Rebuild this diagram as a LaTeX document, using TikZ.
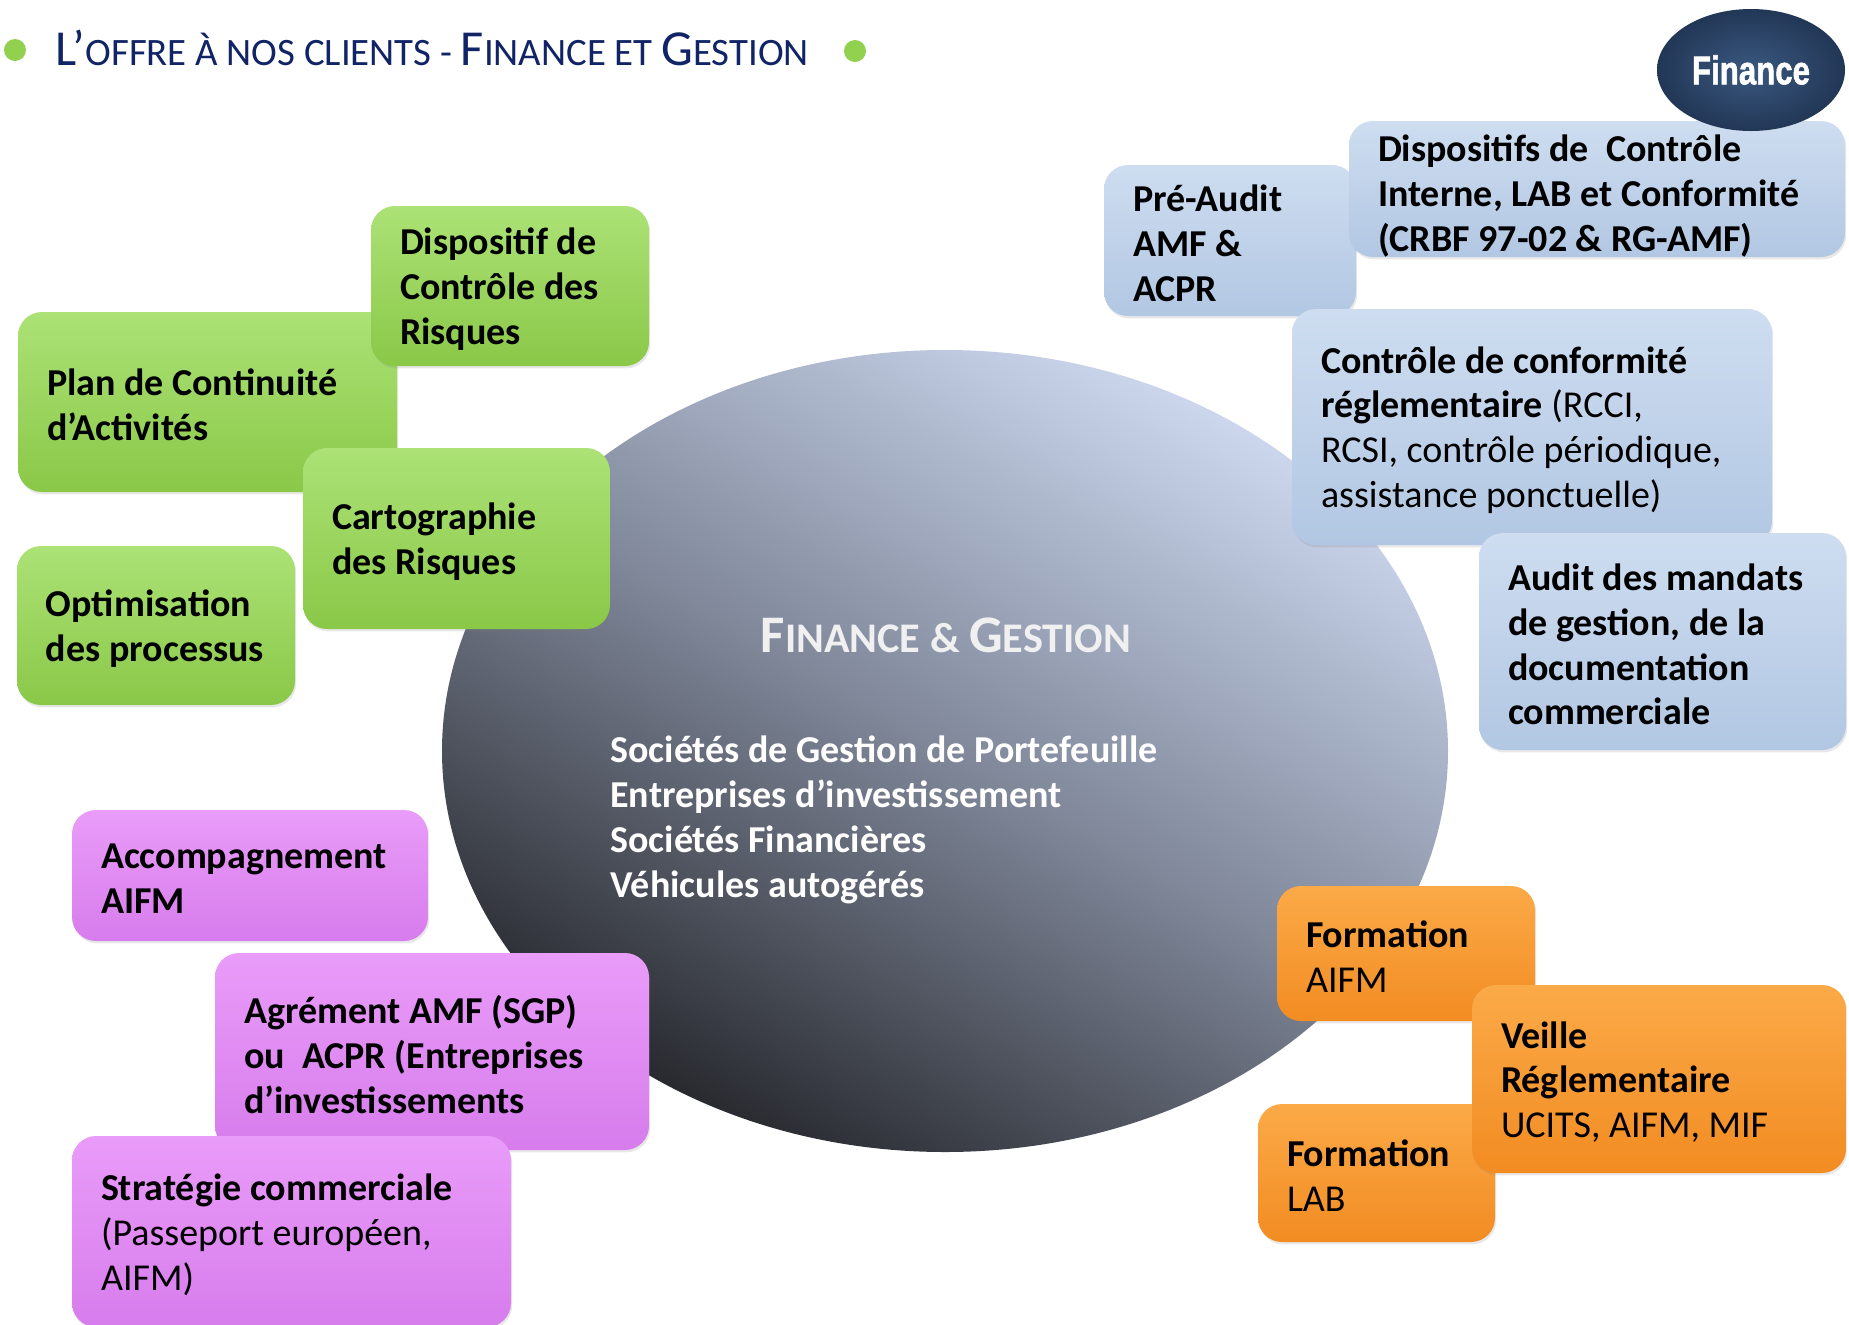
\documentclass[tikz,border=0pt]{standalone}
\usepackage{fontspec}
\usepackage{graphicx}
\setmainfont{Carlito}
\newfontfamily\finfont[FakeBold=1.6]{Liberation Sans}
\usetikzlibrary{fit,shapes.geometric,shadows}
\definecolor{titleblue}{HTML}{102466}
\definecolor{dotgreen}{HTML}{92D050}
\definecolor{gtop}{HTML}{ACE276}
\definecolor{gbot}{HTML}{8AC848}
\definecolor{btop}{HTML}{CEDDF0}
\definecolor{bbot}{HTML}{B2C7E3}
\definecolor{ptop}{HTML}{E99CF9}
\definecolor{pbot}{HTML}{D77CEC}
\definecolor{otop}{HTML}{FBAA48}
\definecolor{obot}{HTML}{F28C22}
\definecolor{elight}{HTML}{CDD8EF}
\definecolor{emid}{HTML}{7F8799}
\definecolor{edark}{HTML}{26282D}
\definecolor{finin}{HTML}{3A5880}
\definecolor{finout}{HTML}{223756}
\newcommand\ttlL{\fontsize{25.2}{30}\selectfont}
\newcommand\ttlS{\fontsize{19.4}{24}\selectfont}
\newcommand\ctrL{\fontsize{26.4}{30}\selectfont}
\newcommand\ctrS{\fontsize{21.1}{24}\selectfont}
\tikzset{
  x=0.5pt, y=-0.5pt,
  box/.style={rounded corners=12pt, inner sep=0pt,
    drop shadow={shadow xshift=0.6pt, shadow yshift=-1.2pt, opacity=0.18}},
  gbox/.style={box, top color=gtop, bottom color=gbot},
  bbox/.style={box, top color=btop, bottom color=bbot},
  pbox/.style={box, top color=ptop, bottom color=pbot},
  obox/.style={box, top color=otop, bottom color=obot},
  txt/.style={anchor=west, inner sep=0pt, align=left, text=black, yshift=-1.5pt,
    font=\fontsize{19}{22.4}\selectfont},
  btxt/.style={txt, font=\fontsize{19}{22.4}\selectfont\bfseries},
}
\begin{document}
\begin{tikzpicture}
\useasboundingbox (0,0) rectangle (1849,1324);
\fill[white] (0,0) rectangle (1849,1324);

% title
\node[circle, fill=dotgreen, minimum size=11pt, inner sep=0pt] (dotL) at (15,50) {};
\node[circle, fill=dotgreen, minimum size=11pt, inner sep=0pt] (dotR) at (855,51) {};
\node[anchor=base west, inner sep=0pt, text=titleblue] (title) at (55,65)
  {\ttlL L’\ttlS OFFRE À NOS CLIENTS - \ttlL F\ttlS INANCE ET \ttlL G\ttlS ESTION};

% central ellipse
\node[ellipse, minimum width=503pt, minimum height=401pt, inner sep=0pt,
  top color=elight, bottom color=edark, middle color=emid, shading angle=-30] (core) at (945,751) {};
\node[anchor=base, inner sep=0pt, text=white!94!black, font=\bfseries] (coret) at (946,652)
  {\ctrL F\ctrS INANCE \& \ctrL G\ctrS ESTION};
\node[btxt, text=white] (corel) at (610,817)
  {Sociétés de Gestion de Portefeuille\\Entreprises d’investissement\\Sociétés Financières\\Véhicules autogérés};

% green boxes
\node[gbox, fit={(18,312) (397,492)}] (g2) {};
\node[btxt] (g2t) at ([xshift=14.5pt]g2.west) {Plan de Continuité\\d’Activités};
\node[gbox, fit={(371,206) (649,366)}] (g1) {};
\node[btxt] (g1t) at ([xshift=14.5pt]g1.west) {Dispositif de\\Contrôle des\\Risques};
\node[gbox, fit={(17,546) (295,705)}] (g4) {};
\node[btxt] (g4t) at ([xshift=14.5pt]g4.west) {Optimisation\\des processus};
\node[gbox, fit={(303,448) (610,629)}] (g3) {};
\node[btxt] (g3t) at ([xshift=14.5pt]g3.west) {Cartographie\\des Risques};

% blue boxes
\node[bbox, fit={(1104,165) (1356,316)}] (b1) {};
\node[btxt] (b1t) at ([xshift=14.5pt]b1.west) {Pré-Audit\\AMF \&\\ACPR};
\node[bbox, fit={(1349,121) (1845,257)}] (b2) {};
\node[btxt] (b2t) at ([xshift=14.5pt,yshift=-2pt]b2.west)
  {Dispositifs de~ Contrôle\\Interne, LAB et Conformité\\(CRBF 97-02 \& RG-AMF)};
\node[bbox, fit={(1292,309) (1772,545)}] (b3) {};
\node[txt] (b3t) at ([xshift=14.5pt]b3.west)
  {\textbf{Contrôle de conformité}\\\textbf{réglementaire} (RCCI,\\RCSI, contrôle périodique,\\assistance ponctuelle)};
\node[bbox, fit={(1479,533) (1846,750)}] (b4) {};
\node[btxt] (b4t) at ([xshift=14.5pt]b4.west) {Audit des mandats\\de gestion, de la\\documentation\\commerciale};

% purple boxes
\node[pbox, fit={(72,810) (428,941)}] (p1) {};
\node[btxt] (p1t) at ([xshift=14.5pt]p1.west) {Accompagnement\\AIFM};
\node[pbox, fit={(215,953) (649,1150)}] (p2) {};
\node[btxt] (p2t) at ([xshift=14.5pt]p2.west) {Agrément AMF (SGP)\\ou~ ACPR (Entreprises\\d’investissements};
\node[pbox, fit={(72,1136) (511,1327)}] (p3) {};
\node[txt] (p3t) at ([xshift=14.5pt]p3.west) {\textbf{Stratégie commerciale}\\(Passeport européen,\\AIFM)};

% orange boxes
\node[obox, fit={(1277,886) (1535,1021)}] (o1) {};
\node[txt] (o1t) at ([xshift=14.5pt]o1.west) {\textbf{Formation}\\AIFM};
\node[obox, fit={(1258,1104) (1495,1242)}] (o3) {};
\node[txt] (o3t) at ([xshift=14.5pt]o3.west) {\textbf{Formation}\\LAB};
\node[obox, fit={(1472,985) (1846,1173)}] (o2) {};
\node[txt] (o2t) at ([xshift=14.5pt]o2.west) {\textbf{Veille}\\\textbf{Réglementaire}\\UCITS, AIFM, MIF};

% Finance badge
\node[ellipse, minimum width=94pt, minimum height=61pt, inner sep=0pt,
  inner color=finin, outer color=finout, text=white,
  font=\finfont\bfseries\fontsize{20}{22}\selectfont] (fin) at (1751,70)
  {\scalebox{0.78}[1]{Finance}};
\end{tikzpicture}
\end{document}
